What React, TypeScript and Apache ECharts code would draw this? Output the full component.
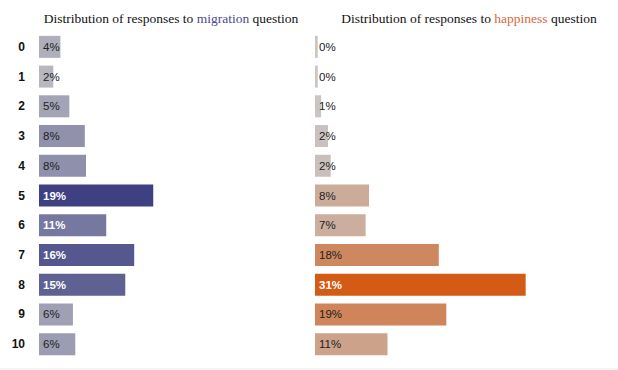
import React, { useEffect, useRef } from "react";
import * as echarts from "echarts";

const categories = ["0", "1", "2", "3", "4", "5", "6", "7", "8", "9", "10"];
const migrationValues = [3.6, 2.4, 5.1, 7.7, 7.9, 19.2, 11.3, 16.0, 14.5, 5.7, 6.1];
const happinessValues = [0.4, 0.4, 0.9, 1.9, 2.3, 7.9, 7.4, 18.1, 30.8, 19.2, 10.6];

const GRAY = "#c8c8c8";
const MIGRATION_DARK = "#3e4082";
const HAPPINESS_DARK = "#d35b16";

function buildItems(values: number[], dark: string) {
  const max = Math.max(...values);
  return values.map((v) => {
    const c = echarts.color.lerp(v / max, [GRAY, dark]) as string;
    const rgb = echarts.color.parse(c) as number[];
    const bright = (0.299 * rgb[0] + 0.587 * rgb[1] + 0.114 * rgb[2]) / 255;
    const isDark = bright < 0.55;
    return {
      value: v,
      itemStyle: { color: c },
      label: { color: isDark ? "#ffffff" : "#222222", fontWeight: isDark ? "bold" : "normal" },
    };
  });
}

export default function App() {
  const ref = useRef<HTMLDivElement>(null);
  useEffect(() => {
    if (!ref.current) return;
    const chart = echarts.init(ref.current, undefined, { renderer: "svg" });
    const labelCfg = {
      show: true,
      position: "insideLeft",
      distance: 4,
      fontSize: 11.5,
      fontFamily: "Liberation Sans, Arial, sans-serif",
      formatter: (p: any) => Math.round(p.value) + "%",
    };
    const titleFont = {
      fontFamily: "Liberation Serif, Times New Roman, serif",
      fontSize: 13.5,
    };
    chart.setOption({
      animation: false,
      grid: [
        { left: 39, top: 32, width: 238, height: 327 },
        { left: 315, top: 32, width: 273.6, height: 327 },
      ],
      xAxis: [
        { gridIndex: 0, type: "value", min: 0, max: 40, show: false },
        { gridIndex: 1, type: "value", min: 0, max: 40, show: false },
      ],
      yAxis: [
        {
          gridIndex: 0,
          type: "category",
          data: categories,
          inverse: true,
          axisLine: { show: false },
          axisTick: { show: false },
          splitLine: { show: false },
          axisLabel: {
            margin: 14,
            fontWeight: "bold",
            fontSize: 12,
            color: "#111111",
            fontFamily: "Liberation Sans, Arial, sans-serif",
          },
        },
        {
          gridIndex: 1,
          type: "category",
          data: categories,
          inverse: true,
          show: false,
        },
      ],
      series: [
        {
          type: "bar",
          xAxisIndex: 0,
          yAxisIndex: 0,
          barWidth: 22,
          data: buildItems(migrationValues, MIGRATION_DARK),
          label: labelCfg,
          emphasis: { disabled: true },
        },
        {
          type: "bar",
          xAxisIndex: 1,
          yAxisIndex: 1,
          barWidth: 22,
          data: buildItems(happinessValues, HAPPINESS_DARK),
          label: labelCfg,
          emphasis: { disabled: true },
        },
      ],
      graphic: [
        {
          type: "text",
          x: 171,
          y: 18,
          silent: true,
          style: {
            text: "{a|Distribution of responses to }{m|migration}{a| question}",
            align: "center",
            verticalAlign: "middle",
            ...titleFont,
            rich: {
              a: { ...titleFont, fill: "#111111", color: "#111111" },
              m: { ...titleFont, fill: "#4b4a8c", color: "#4b4a8c" },
            },
          },
        },
        {
          type: "text",
          x: 469,
          y: 18,
          silent: true,
          style: {
            text: "{a|Distribution of responses to }{h|happiness}{a| question}",
            align: "center",
            verticalAlign: "middle",
            ...titleFont,
            rich: {
              a: { ...titleFont, fill: "#111111", color: "#111111" },
              h: { ...titleFont, fill: "#d9663f", color: "#d9663f" },
            },
          },
        },
        {
          type: "rect",
          silent: true,
          shape: { x: 0, y: 368, width: 618, height: 2 },
          style: { fill: "#f4f4f4" },
        },
      ],
    });
    return () => chart.dispose();
  }, []);
  return (
    <div
      ref={ref}
      style={{ position: "fixed", left: 0, top: 0, width: 618, height: 370, background: "#ffffff" }}
    />
  );
}
